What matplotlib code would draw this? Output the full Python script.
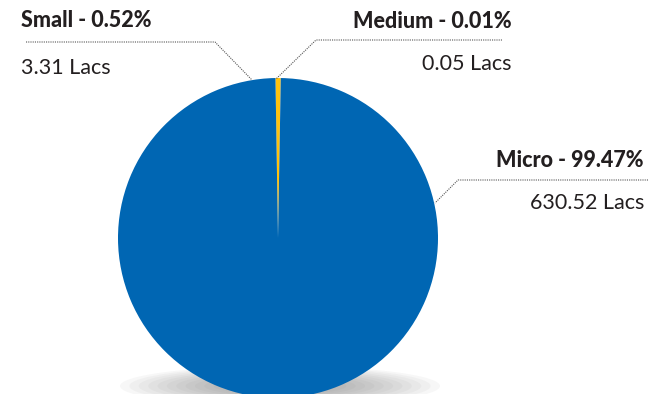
import matplotlib.pyplot as plt
from matplotlib.patches import Ellipse

# Enterprise categories, amounts in Lacs
categories = ['Medium', 'Small', 'Micro']
amounts = [0.05, 3.31, 630.52]
colors = ['#b2aaa3', '#ffc20e', '#0066b3']

total = sum(amounts)
shares = [a / total * 100 for a in amounts]

W, H = 651, 394
fig = plt.figure(figsize=(W / 100, H / 100), dpi=100)
ax = fig.add_axes([0, 0, 1, 1])

cx, cy, r = 278, H - 238, 160

# soft shadow under the pie
for i in range(16):
    k = 1 - i / 16
    ax.add_patch(Ellipse((cx + 2, H - 386), 300 * k + 20, 36 * k + 4,
                         color='#6a6a6a', alpha=0.05, lw=0, zorder=1))

ax.pie(amounts, colors=colors, startangle=89, counterclock=True,
       center=(cx, cy), radius=r, frame=True,
       wedgeprops=dict(linewidth=0, zorder=2))
ax.set_xlim(0, W)
ax.set_ylim(0, H)
ax.set_aspect('equal')
ax.axis('off')

txt = '#231f20'
line_kw = dict(color='#555555', lw=0.8, ls=(0, (1, 1)), zorder=3)
font = 'Lato'


def label(name, share, amount, x, y_title, y_val, ha, line_pts):
    ax.text(x, H - y_title, f'{name} - {share:.2f}%', ha=ha, va='center',
            fontsize=15.5, fontweight='black', color=txt, family=font)
    ax.text(x, H - y_val, f'{amount:.2f} Lacs', ha=ha, va='center',
            fontsize=15.5, color=txt, family=font)
    xs = [p[0] for p in line_pts]
    ys = [H - p[1] for p in line_pts]
    ax.plot(xs, ys, **line_kw)


label('Small', shares[1], amounts[1], 21, 20, 68, 'left',
      [(26, 42), (215, 42), (252, 80)])
label('Medium', shares[0], amounts[0], 512, 21, 64, 'right',
      [(502, 40), (316, 40), (276, 79)])
label('Micro', shares[2], amounts[2], 644, 160, 203, 'right',
      [(648, 180), (458, 180), (435, 203)])

fig.savefig('out.png', dpi=100)
